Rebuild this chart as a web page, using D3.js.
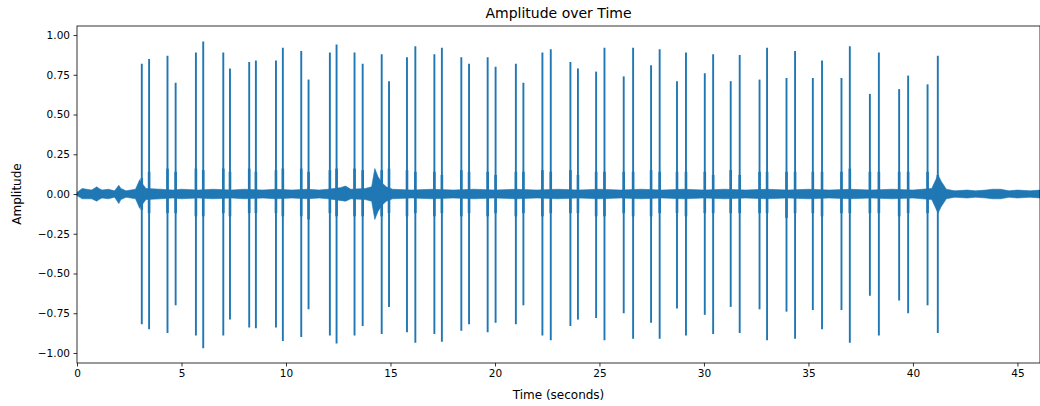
<!DOCTYPE html>
<html>
<head>
<meta charset="utf-8">
<script src="https://cdn.jsdelivr.net/npm/d3@7"></script>
<style>
  body { margin: 0; background: #fff; }
  text { font-family: "DejaVu Sans", sans-serif; }
</style>
</head>
<body>
<div id="container"></div>
<script>
// instants des clics (secondes) et amplitude des pics positifs / negatifs
const spikeTimes = [3.10, 3.45, 4.33, 4.72, 5.69, 6.04, 7.00, 7.32, 8.24, 8.56, 9.52, 9.85,
  10.73, 11.08, 12.10, 12.42, 13.28, 13.67, 14.58, 14.93, 15.79, 16.19, 17.10, 17.46,
  18.39, 18.76, 19.65, 20.03, 21.00, 21.36, 22.27, 22.67, 23.61, 23.97, 24.84, 25.24,
  26.16, 26.61, 27.47, 27.88, 28.71, 29.14, 30.04, 30.44, 31.28, 31.71, 32.66, 33.02,
  33.95, 34.36, 35.21, 35.65, 36.58, 36.98, 37.94, 38.37, 39.34, 39.77, 40.70, 41.19]
const spikeUp = [0.82, 0.85, 0.87, 0.70, 0.89, 0.96, 0.89, 0.79, 0.83, 0.84, 0.84, 0.92,
  0.90, 0.72, 0.89, 0.94, 0.89, 0.82, 0.88, 0.71, 0.86, 0.93, 0.88, 0.92,
  0.86, 0.82, 0.86, 0.80, 0.82, 0.70, 0.89, 0.91, 0.83, 0.79, 0.77, 0.92,
  0.74, 0.92, 0.81, 0.91, 0.71, 0.89, 0.76, 0.88, 0.71, 0.875, 0.72, 0.92,
  0.73, 0.90, 0.73, 0.84, 0.73, 0.93, 0.63, 0.89, 0.66, 0.745, 0.69, 0.87]
const spikeDown = [-0.82, -0.85, -0.875, -0.70, -0.89, -0.97, -0.89, -0.79, -0.84, -0.845, -0.84, -0.925,
  -0.90, -0.725, -0.89, -0.94, -0.89, -0.83, -0.88, -0.71, -0.87, -0.935, -0.88, -0.93,
  -0.86, -0.82, -0.87, -0.81, -0.82, -0.70, -0.89, -0.92, -0.83, -0.79, -0.78, -0.92,
  -0.75, -0.91, -0.81, -0.91, -0.72, -0.89, -0.76, -0.88, -0.71, -0.875, -0.725, -0.92,
  -0.74, -0.91, -0.73, -0.85, -0.73, -0.935, -0.64, -0.89, -0.67, -0.75, -0.70, -0.875]
// partie centrale plus dense de chaque clic
const spikeCoreUp = [0.10, 0.14, 0.16, 0.14, 0.16, 0.15, 0.16, 0.14, 0.16, 0.14, 0.15, 0.16,
  0.16, 0.14, 0.15, 0.16, 0.16, 0.15, 0.15, 0.16, 0.15, 0.14, 0.14, 0.12,
  0.15, 0.14, 0.14, 0.12, 0.14, 0.14, 0.15, 0.14, 0.15, 0.12, 0.14, 0.14,
  0.14, 0.14, 0.15, 0.14, 0.14, 0.14, 0.14, 0.12, 0.15, 0.12, 0.14, 0.14,
  0.14, 0.14, 0.14, 0.14, 0.14, 0.16, 0.14, 0.14, 0.14, 0.14, 0.14, 0.12]
const spikeCoreDown = [-0.10, -0.12, -0.12, -0.12, -0.14, -0.14, -0.12, -0.14, -0.12, -0.12, -0.12, -0.14,
  -0.14, -0.16, -0.12, -0.14, -0.14, -0.14, -0.14, -0.12, -0.14, -0.12, -0.14, -0.12,
  -0.14, -0.12, -0.14, -0.12, -0.14, -0.12, -0.14, -0.12, -0.12, -0.12, -0.14, -0.14,
  -0.12, -0.14, -0.14, -0.12, -0.12, -0.14, -0.12, -0.12, -0.12, -0.12, -0.12, -0.12,
  -0.15, -0.12, -0.12, -0.14, -0.12, -0.12, -0.12, -0.12, -0.14, -0.12, -0.12, -0.10]

// enveloppe du bruit de fond
const envTime = [0, 0.25, 0.45, 0.7, 0.95, 1.05, 1.2, 1.5, 1.8, 2.0, 2.1, 2.35, 2.8, 3.0, 3.1, 3.3,
  4.0, 4.6, 5.0, 5.8, 6.5, 7.4, 8.0, 8.9, 9.5, 10.3, 11.0, 11.6, 12.0, 12.6, 12.85, 13.1, 13.8, 14.1, 14.25, 14.4, 14.6, 14.8, 15.1,
  16.0, 17.0, 18.0, 19.0, 20.0, 21.0, 22.0, 23.0, 24.0, 25.0, 26.0, 27.0, 28.0, 29.0, 30.0, 31.0, 32.0, 33.0,
  34.0, 35.0, 36.0, 37.0, 38.0, 39.0, 40.0, 40.9, 41.2, 41.35,
  41.6, 42.0, 42.6, 43.0, 43.5, 43.8, 44.2, 44.6, 45.0, 45.6, 46.1]
const envUpper = [0.01, 0.035, 0.03, 0.025, 0.045, 0.035, 0.025, 0.03, 0.02, 0.055, 0.035, 0.02, 0.03, 0.09, 0.07, 0.035,
  0.03, 0.025, 0.03, 0.025, 0.03, 0.025, 0.03, 0.025, 0.03, 0.025, 0.03, 0.025, 0.03, 0.04, 0.05, 0.03, 0.035, 0.045, 0.16, 0.11, 0.07, 0.045, 0.03,
  0.025, 0.03, 0.025, 0.03, 0.025, 0.03, 0.025, 0.03, 0.025, 0.03, 0.025, 0.03, 0.025, 0.03, 0.025, 0.03, 0.025, 0.03,
  0.025, 0.03, 0.025, 0.03, 0.025, 0.03, 0.025, 0.035, 0.12, 0.08,
  0.03, 0.02, 0.025, 0.02, 0.025, 0.03, 0.03, 0.02, 0.025, 0.02, 0.025]
const envLower = [-0.01, -0.03, -0.03, -0.03, -0.045, -0.035, -0.025, -0.03, -0.02, -0.06, -0.035, -0.02, -0.03, -0.09, -0.07, -0.035,
  -0.03, -0.025, -0.03, -0.025, -0.03, -0.025, -0.03, -0.025, -0.03, -0.025, -0.03, -0.025, -0.03, -0.04, -0.045, -0.03, -0.035, -0.045, -0.16, -0.11, -0.07, -0.045, -0.03,
  -0.025, -0.03, -0.025, -0.03, -0.025, -0.03, -0.025, -0.03, -0.025, -0.03, -0.025, -0.03, -0.025, -0.03, -0.025, -0.03, -0.025, -0.03,
  -0.025, -0.03, -0.025, -0.03, -0.025, -0.03, -0.025, -0.035, -0.12, -0.08,
  -0.03, -0.02, -0.025, -0.02, -0.025, -0.03, -0.03, -0.02, -0.025, -0.02, -0.025]

const xTicks = [0, 5, 10, 15, 20, 25, 30, 35, 40, 45]
const yTicks = [-1.0, -0.75, -0.5, -0.25, 0, 0.25, 0.5, 0.75, 1.0]

const color = '#1f77b4'

function displayChart() {
  const width = 1040, height = 406
  const margin = { top: 26, right: 0, bottom: 43, left: 77 }

  const svg = d3.select('#container').append('svg')
    .attr('width', width)
    .attr('height', height)

  const x = d3.scaleLinear()
    .domain([0, 46.08])
    .range([margin.left, width - margin.right])

  const y = d3.scaleLinear()
    .domain([-1.063, 1.057])
    .range([height - margin.bottom, margin.top])

  // bruit de fond
  const envData = envTime.map((t, i) => ({ t: t, hi: envUpper[i], lo: envLower[i] }))
  const area = d3.area()
    .x(d => x(d.t))
    .y0(d => y(d.lo))
    .y1(d => y(d.hi))
  svg.append('path')
    .datum(envData)
    .attr('d', area)
    .attr('fill', color)
    .attr('stroke', color)
    .attr('stroke-width', 0.6)

  // clics
  const spikes = svg.append('g').attr('id', 'spikes')
  spikeTimes.forEach((t, i) => {
    spikes.append('line')
      .attr('x1', x(t)).attr('x2', x(t))
      .attr('y1', y(spikeUp[i])).attr('y2', y(spikeDown[i]))
      .attr('stroke', color)
      .attr('stroke-width', 1.9)
    spikes.append('line')
      .attr('x1', x(t)).attr('x2', x(t))
      .attr('y1', y(spikeCoreUp[i])).attr('y2', y(spikeCoreDown[i]))
      .attr('stroke', color)
      .attr('stroke-width', 2.6)
  })

  // cadre
  svg.append('rect')
    .attr('x', margin.left).attr('y', margin.top)
    .attr('width', width - margin.right - margin.left)
    .attr('height', height - margin.bottom - margin.top)
    .attr('fill', 'none')
    .attr('stroke', '#000')
    .attr('stroke-width', 0.8)

  // axe des abscisses
  const xAxis = svg.append('g')
    .attr('transform', `translate(0,${height - margin.bottom})`)
    .call(d3.axisBottom(x).tickValues(xTicks).tickFormat(d3.format('d')).tickSize(3.5).tickPadding(3.5))
  xAxis.select('.domain').remove()

  // axe des ordonnees
  const yAxis = svg.append('g')
    .attr('transform', `translate(${margin.left},0)`)
    .call(d3.axisLeft(y).tickValues(yTicks).tickFormat(d => d3.format('.2f')(d).replace('-', '\u2212')).tickSize(3.5).tickPadding(3.5))
  yAxis.select('.domain').remove()

  svg.selectAll('.tick text')
    .attr('font-family', '"DejaVu Sans", sans-serif')
    .attr('font-size', 10.5)
    .attr('fill', '#000')
  svg.selectAll('.tick line').attr('stroke', '#000').attr('stroke-width', 0.8)

  // titres
  svg.append('text')
    .attr('x', (margin.left + width - margin.right) / 2)
    .attr('y', 18)
    .attr('text-anchor', 'middle')
    .attr('font-size', 14)
    .text('Amplitude over Time')

  svg.append('text')
    .attr('x', (margin.left + width - margin.right) / 2)
    .attr('y', 399)
    .attr('text-anchor', 'middle')
    .attr('font-size', 12)
    .text('Time (seconds)')

  svg.append('text')
    .attr('transform', `translate(21,${y(0)}) rotate(-90)`)
    .attr('text-anchor', 'middle')
    .attr('font-size', 12)
    .text('Amplitude')
}

displayChart()
</script>
</body>
</html>
